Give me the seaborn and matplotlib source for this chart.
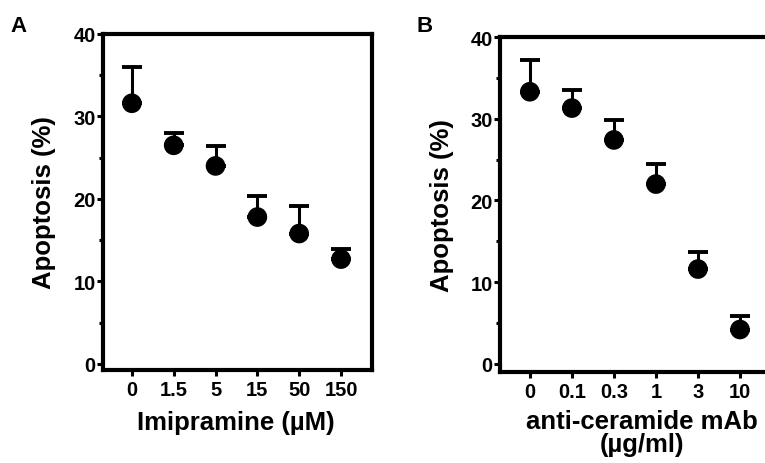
import numpy as np
import pandas as pd
import seaborn as sns
import matplotlib.pyplot as plt

# Panel A data
imi_doses = ['0', '1.5', '5', '15', '50', '150']
imi_apoptosis = [31.6, 26.5, 24.0, 17.8, 15.8, 12.7]
imi_err = [4.4, 1.5, 2.4, 2.6, 3.3, 1.2]

# Panel B data
mab_doses = ['0', '0.1', '0.3', '1', '3', '10']
mab_apoptosis = [33.3, 31.3, 27.4, 22.0, 11.6, 4.2]
mab_err = [3.9, 2.2, 2.4, 2.5, 2.1, 1.7]

y_ticks = [0, 10, 20, 30, 40]
tick_fs = 14.5
label_fs = 18.5

sns.set_theme(style="ticks")
plt.rcParams['font.family'] = ['Liberation Sans', 'DejaVu Sans']
plt.rcParams['font.weight'] = 'bold'
plt.rcParams['text.color'] = 'black'
plt.rcParams['axes.labelcolor'] = 'black'
plt.rcParams['xtick.color'] = 'black'
plt.rcParams['ytick.color'] = 'black'

fig = plt.figure(figsize=(7.65, 4.64), dpi=100)
ax_a = fig.add_axes([103 / 765, 1 - 371 / 464, 269 / 765, 336 / 464])
ax_b = fig.add_axes([500 / 765, 1 - 373 / 464, 269 / 765, 335 / 464])


def draw_panel(ax, doses, values, errs, xlabel, ymin, xlim):
    df = pd.DataFrame({'dose': doses, 'apoptosis': values})
    pos = np.arange(len(doses))
    ax.errorbar(pos, values, yerr=[np.zeros(len(errs)), errs], fmt='none',
                ecolor='black', elinewidth=2.2, capsize=7, capthick=2.8, zorder=2)
    sns.scatterplot(data=df, x='dose', y='apoptosis', ax=ax, color='black',
                    s=200, edgecolor='none', zorder=3, legend=False)
    ax.set_xlim(*xlim)
    ax.set_ylim(ymin, 40)
    ax.set_xticks(pos, labels=doses, fontsize=tick_fs, fontweight='bold')
    ax.set_yticks(y_ticks, labels=[str(t) for t in y_ticks], fontsize=tick_fs,
                  fontweight='bold')
    ax.set_yticks([5, 15, 25, 35], minor=True)
    for sp in ax.spines.values():
        sp.set_linewidth(3)
        sp.set_color('black')
        sp.set_visible(True)
    ax.tick_params(axis='both', which='major', length=4, width=2.2,
                   pad=1.2, colors='black')
    ax.tick_params(axis='y', which='minor', length=3, width=2.2, colors='black')
    ax.tick_params(axis='x', which='major', pad=3)
    ax.set_ylabel('Apoptosis (%)', fontsize=label_fs, fontweight='bold')
    ax.set_xlabel(xlabel, fontsize=label_fs, fontweight='bold', linespacing=0.95)
    ax.yaxis.label.set_va('center')
    ax.xaxis.label.set_va('center')


draw_panel(ax_a, imi_doses, imi_apoptosis, imi_err, 'Imipramine (µM)',
           -0.75, (-0.69, 5.74))
draw_panel(ax_b, mab_doses, mab_apoptosis, mab_err, 'anti-ceramide mAb\n(µg/ml)',
           -1.0, (-0.71, 5.69))
ax_a.yaxis.set_label_coords(-0.22, 0.5)
ax_b.yaxis.set_label_coords(-0.216, 0.5)
ax_a.xaxis.set_label_coords(0.495, -0.155)
ax_b.xaxis.set_label_coords(0.528, -0.182)

fig.text(10 / 765, 1 - 26 / 464, 'A', fontsize=16, fontweight='bold', va='center')
fig.text(417 / 765, 1 - 26 / 464, 'B', fontsize=16, fontweight='bold', va='center')

fig.savefig('out.png', dpi=100)
